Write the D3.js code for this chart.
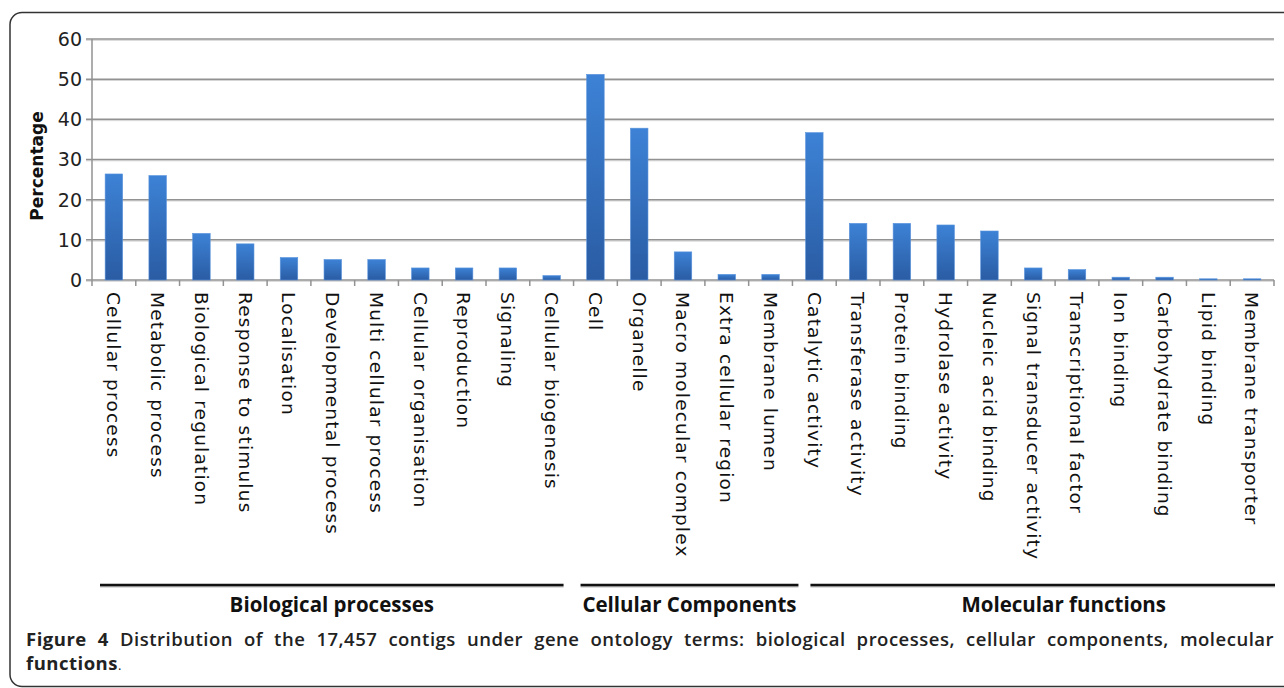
<!DOCTYPE html>
<html>
<head>
<meta charset="utf-8">
<script src="https://cdn.jsdelivr.net/npm/d3@7/dist/d3.min.js"></script>
<style>
  html, body { margin: 0; padding: 0; background: #fff; }
  svg { display: block; }
</style>
</head>
<body>
<svg id="chart" width="1284" height="688"></svg>
<script>
// ---------- data ----------
const categories = [
  "Cellular process", "Metabolic process", "Biological regulation", "Response to stimulus",
  "Localisation", "Developmental process", "Multi cellular process", "Cellular organisation",
  "Reproduction", "Signaling", "Cellular biogenesis",
  "Cell", "Organelle", "Macro molecular complex", "Extra cellular region", "Membrane lumen",
  "Catalytic activity", "Transferase activity", "Protein binding", "Hydrolase activity",
  "Nucleic acid binding", "Signal transducer activity", "Transcriptional factor", "Ion binding",
  "Carbohydrate binding", "Lipid binding", "Membrane transporter"
];
const percentages = [
  26.4, 26.0, 11.6, 9.0, 5.6, 5.1, 5.1, 3.0, 3.0, 3.0, 1.1,
  51.2, 37.8, 7.0, 1.4, 1.4,
  36.7, 14.1, 14.1, 13.7, 12.2, 3.0, 2.6, 0.7, 0.7, 0.3, 0.3
];
const yTicks = [0, 10, 20, 30, 40, 50, 60];
const groupNames = ["Biological processes", "Cellular Components", "Molecular functions"];
const groupFirst = ["Cellular process", "Cell", "Catalytic activity"];
const groupLast = ["Cellular biogenesis", "Membrane lumen", "Membrane transporter"];
const yTitle = "Percentage";
const captionBold = "Figure 4";
const captionLine1 = " Distribution of the 17,457 contigs under gene ontology terms: biological processes, cellular components, molecular";
const captionLine2 = "functions";

// ---------- layout ----------
(function () {
const svg = d3.select("#chart");
const pLeft = 92, pRight = 1274, pTop = 39, pBottom = 280;
const x = d3.scaleBand().domain(categories).range([pLeft, pRight]).paddingInner(0.6).paddingOuter(0.3);
const xb = d3.scaleBand().domain(categories).range([pLeft, pRight]).padding(0);
const y = d3.scaleLinear().domain([0, 60]).range([pBottom, pTop]);

// frame
svg.append("rect")
  .attr("x", 10).attr("y", 12.5).attr("width", 1320).attr("height", 674)
  .attr("rx", 12).attr("ry", 12)
  .attr("fill", "none").attr("stroke", "#333").attr("stroke-width", 1.5);

// gradient
const defs = svg.append("defs");
const grad = defs.append("linearGradient").attr("id", "barGrad")
  .attr("x1", 0).attr("y1", 0).attr("x2", 0).attr("y2", 1);
grad.append("stop").attr("offset", "0%").attr("stop-color", "#3d82d6");
grad.append("stop").attr("offset", "100%").attr("stop-color", "#2a5ca3");

// gridlines (with a faint shadow)
svg.append("g").selectAll("line").data(yTicks).join("line")
  .attr("x1", pLeft - 6).attr("x2", pRight)
  .attr("y1", d => y(d) + 1.3).attr("y2", d => y(d) + 1.3)
  .attr("stroke", "#d4d4d4").attr("stroke-width", 1);
svg.append("g").selectAll("line").data(yTicks).join("line")
  .attr("x1", pLeft - 6).attr("x2", pRight)
  .attr("y1", d => y(d)).attr("y2", d => y(d))
  .attr("stroke", "#929292").attr("stroke-width", 1.5);

// y axis line
svg.append("line").attr("x1", pLeft).attr("x2", pLeft).attr("y1", pTop).attr("y2", pBottom)
  .attr("stroke", "#929292").attr("stroke-width", 1.5);

// y tick labels
svg.append("g").selectAll("text").data(yTicks).join("text")
  .attr("x", pLeft - 10).attr("y", d => y(d)).attr("dy", "0.36em")
  .attr("text-anchor", "end")
  .attr("font-family", "DejaVu Sans").attr("font-size", 19).attr("fill", "#222")
  .text(d => d);

// x tick marks at band boundaries
const boundaries = categories.map(c => xb(c)).concat([pRight]);
svg.append("g").selectAll("line").data(boundaries).join("line")
  .attr("x1", d => d).attr("x2", d => d).attr("y1", pBottom).attr("y2", pBottom + 6)
  .attr("stroke", "#929292").attr("stroke-width", 1.5);

// bars
svg.append("g").selectAll("rect").data(categories).join("rect")
  .attr("x", d => x(d))
  .attr("width", x.bandwidth())
  .attr("y", (d, i) => y(percentages[i]))
  .attr("height", (d, i) => y(0) - y(percentages[i]))
  .attr("fill", "url(#barGrad)")
  .attr("stroke", "#5a93dc").attr("stroke-width", 0.6);

// x labels
svg.append("g").selectAll("text").data(categories).join("text")
  .attr("transform", d => `translate(${xb(d) + xb.bandwidth() / 2},${pBottom + 12}) rotate(90)`)
  .attr("dy", "0.36em")
  .attr("font-family", "DejaVu Sans").attr("font-size", 18.5).attr("letter-spacing", 1.2)
  .attr("fill", "#111")
  .text(d => d);

// y title
svg.append("text")
  .attr("transform", `translate(43,166) rotate(-90)`)
  .attr("text-anchor", "middle")
  .attr("font-family", "DejaVu Sans").attr("font-weight", "bold").attr("font-size", 17)
  .attr("fill", "#111")
  .text(yTitle);

// group lines & labels
const groupInset = [[8, -10], [7, 6], [18, 1]];
const labelShift = [0, 0, 21];
const lineY = 585;
groupNames.forEach((g, i) => {
  const x1 = xb(groupFirst[i]) + groupInset[i][0];
  const x2 = xb(groupLast[i]) + xb.bandwidth() + groupInset[i][1];
  svg.append("line").attr("x1", x1).attr("x2", x2).attr("y1", lineY + 1.8).attr("y2", lineY + 1.8)
    .attr("stroke", "#bbb").attr("stroke-width", 1.5);
  svg.append("line").attr("x1", x1).attr("x2", x2).attr("y1", lineY).attr("y2", lineY)
    .attr("stroke", "#111").attr("stroke-width", 2.6);
  svg.append("text")
    .attr("x", (x1 + x2) / 2 + labelShift[i]).attr("y", 612)
    .attr("text-anchor", "middle")
    .attr("font-family", "Open Sans").attr("font-weight", "bold").attr("font-size", 20.5)
    .attr("fill", "#111")
    .text(g);
});

// caption (justified first line via word spacing)
const cap1 = svg.append("text").attr("x", 26).attr("y", 646)
  .attr("font-family", "Open Sans").attr("font-size", 18.5).attr("letter-spacing", 0.5).attr("fill", "#222");
cap1.append("tspan").attr("font-weight", 700).text(captionBold);
cap1.append("tspan").attr("font-weight", 600).text(captionLine1);
const natural = cap1.node().getComputedTextLength();
const nSpaces = (captionBold + captionLine1).split(" ").length - 1;
const extra = Math.max(0, (1248 - natural) / nSpaces);
cap1.attr("word-spacing", extra);
const cap2 = svg.append("text").attr("x", 26).attr("y", 670)
  .attr("font-family", "Open Sans").attr("font-size", 18.5).attr("letter-spacing", 0.5).attr("fill", "#222");
cap2.append("tspan").attr("font-weight", 700).text(captionLine2);
cap2.append("tspan").attr("font-weight", 400).attr("font-size", 13).text(".");
})();
</script>
</body>
</html>
